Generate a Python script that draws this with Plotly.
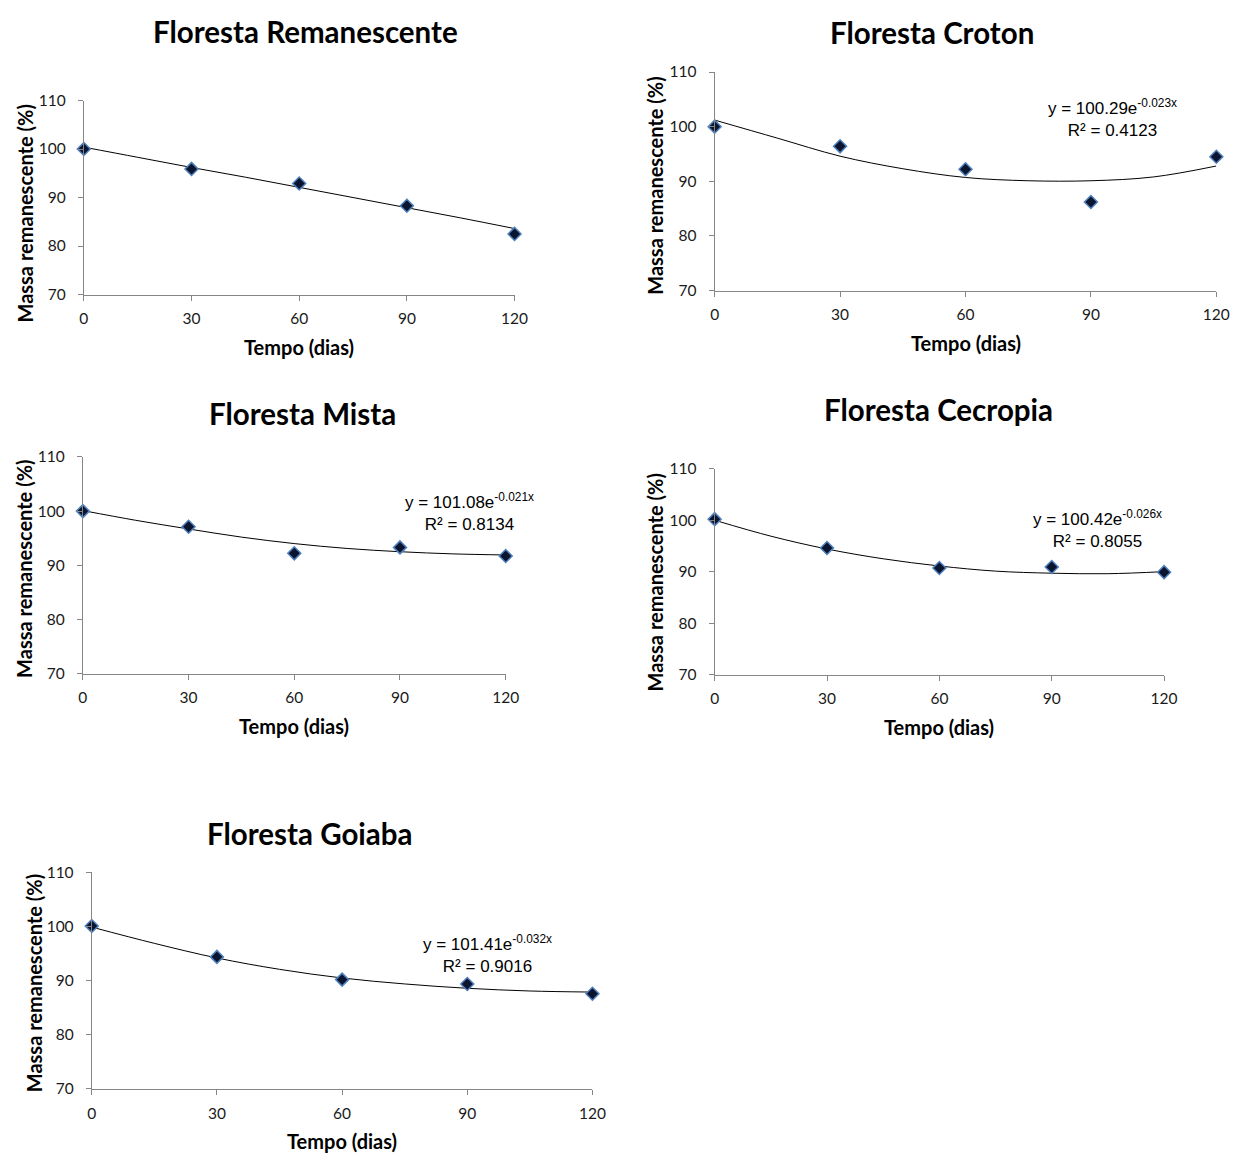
import plotly.graph_objects as go

W, H = 1253, 1160

dias = [0, 30, 60, 90, 120]

remanescente = [100.0, 95.9, 92.9, 88.3, 82.5]
croton = [100.0, 96.4, 92.2, 86.2, 94.5]
mista = [100.0, 97.1, 92.2, 93.3, 91.7]
cecropia = [100.2, 94.6, 90.7, 90.9, 89.9]
goiaba = [100.1, 94.4, 90.2, 89.4, 87.6]

# trend lines
trend_x = [0, 15, 30, 45, 60, 75, 90, 105, 120]
trend_remanescente = [100.4, 98.3, 96.2, 94.2, 92.1, 90.0, 87.9, 85.8, 83.6]
trend_croton = [101.2, 97.9, 94.6, 92.3, 90.7, 90.1, 90.1, 90.8, 92.8]
trend_mista = [100.1, 98.3, 96.7, 95.2, 94.0, 93.1, 92.5, 92.1, 91.9]
trend_cecropia = [100.0, 96.9, 94.4, 92.5, 91.1, 90.1, 89.7, 89.6, 90.0]
trend_goiaba = [99.9, 96.9, 94.2, 92.1, 90.5, 89.4, 88.6, 88.1, 87.9]

titles = ["Floresta Remanescente", "Floresta Croton", "Floresta Mista",
          "Floresta Cecropia", "Floresta Goiaba"]
equations = [None,
             ("y = 100.29e<sup>-0.023x</sup>", "R² = 0.4123"),
             ("y = 101.08e<sup>-0.021x</sup>", "R² = 0.8134"),
             ("y = 100.42e<sup>-0.026x</sup>", "R² = 0.8055"),
             ("y = 101.41e<sup>-0.032x</sup>", "R² = 0.9016")]

y_ticks = [70, 80, 90, 100, 110]
x_ticks = [0, 30, 60, 90, 120]

obs = [remanescente, croton, mista, cecropia, goiaba]
trends = [trend_remanescente, trend_croton, trend_mista, trend_cecropia, trend_goiaba]

# panel pixel boxes: (left, right, top, bottom)
boxes = [(80, 517, 92, 289),
         (720, 1229, 63, 285),
         (79, 508, 454, 674),
         (720, 1176, 466, 675),
         (88, 596, 876, 1096)]
title_pos = [(305, 22), (941, 23), (302, 410), (947, 406), (309, 836)]
ytitle_pos = [(20, 207), (660, 179), (19, 568), (659, 582), (29, 989)]
eq_pos = [None, (1124, 85), (471, 486), (1108, 503), (490, 934)]

def px(x):
    return x / W

def py(y):
    return 1 - y / H

fig = go.Figure()
LABEL_FONT = "Lato"

for i in range(5):
    l, r, t, b = boxes[i]
    xa = "x" if i == 0 else f"x{i+1}"
    ya = "y" if i == 0 else f"y{i+1}"
    fig.add_trace(go.Scatter(x=trend_x, y=trends[i], mode="lines",
                             line=dict(color="black", width=1, shape="spline"),
                             xaxis=xa, yaxis=ya, showlegend=False, hoverinfo="skip"))
    fig.add_trace(go.Scatter(x=dias, y=obs[i], mode="markers",
                             marker=dict(symbol="diamond", size=10, color="#0b1530",
                                         line=dict(color="#4F81BD", width=1.5)),
                             cliponaxis=False,
                             xaxis=xa, yaxis=ya, showlegend=False))
    axis_common = dict(showgrid=False, zeroline=False, showline=True,
                       linecolor="#868686", linewidth=1, ticks="outside",
                       ticklen=5, tickcolor="#868686",
                       tickfont=dict(family=LABEL_FONT, size=15.5, color="#1a1a1a"))
    fig.update_layout(**{
        ("xaxis" if i == 0 else f"xaxis{i+1}"): dict(
            domain=[px(l), px(r)], anchor=ya, range=[0, 120],
            tickvals=x_ticks, ticklabelstandoff=5, **axis_common),
        ("yaxis" if i == 0 else f"yaxis{i+1}"): dict(
            domain=[py(b), py(t)], anchor=xa, range=[70, 110],
            tickvals=y_ticks, ticklabelstandoff=9, **axis_common),
    })
    cx, cy = title_pos[i]
    fig.add_annotation(x=px(cx), y=py(cy), xref="paper", yref="paper",
                       text=f"<b>{titles[i]}</b>", showarrow=False,
                       font=dict(family=LABEL_FONT, size=29.5, color="black"),
                       xanchor="center", yanchor="middle")
    fig.add_annotation(x=px((l + r) / 2), y=py(b + 53), xref="paper", yref="paper",
                       text="<b>Tempo (dias)</b>", showarrow=False,
                       font=dict(family=LABEL_FONT, size=20, color="black"),
                       xanchor="center", yanchor="middle")
    tx, ty = ytitle_pos[i]
    fig.add_annotation(x=px(tx), y=py(ty), xref="paper", yref="paper",
                       text="<b>Massa remanescente (%)</b>", showarrow=False, textangle=-90,
                       font=dict(family=LABEL_FONT, size=20, color="black"),
                       xanchor="center", yanchor="middle")
    if equations[i]:
        ex, ey = eq_pos[i]
        fig.add_annotation(x=px(ex), y=py(ey), xref="paper", yref="paper",
                           text=equations[i][0] + "<br>" + equations[i][1],
                           showarrow=False, align="center",
                           font=dict(family="Liberation Sans", size=17, color="black"),
                           xanchor="center", yanchor="top")

fig.update_layout(width=W, height=H, margin=dict(l=0, r=0, t=0, b=0),
                  paper_bgcolor="white", plot_bgcolor="white")
fig.write_html("out.html")
